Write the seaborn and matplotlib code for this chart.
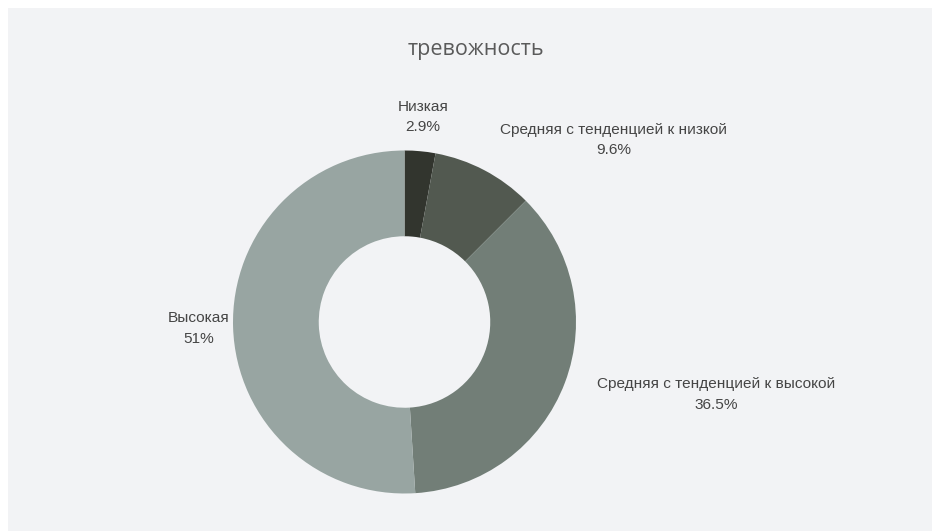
import numpy as np
import pandas as pd
import matplotlib
matplotlib.use('Agg')
import matplotlib.pyplot as plt
from matplotlib.patches import Rectangle
import seaborn as sns

# Data
categories = ['Низкая', 'Средняя с тенденцией к низкой',
              'Средняя с тенденцией к высокой', 'Высокая']
shares = [2.9, 9.6, 36.5, 51]
share_labels = ['2.9%', '9.6%', '36.5%', '51%']
colors = ['#32352e', '#525950', '#727e77', '#98a5a2']
label_align = ['center', 'left', 'left', 'center']

title = 'тревожность'

sns.set_theme(style='white')
plt.rcParams['font.family'] = ['Liberation Sans', 'DejaVu Sans']

df = pd.DataFrame({'category': categories, 'share': shares, 'label': share_labels})
palette = sns.color_palette(colors)

W, H = 932, 531
fig = plt.figure(figsize=(W / 100, H / 100), dpi=100, facecolor='white')

# light grey panel with white margin on top / left
fig.patches.append(Rectangle((8 / W, 0), 1, 1 - 8 / H, transform=fig.transFigure,
                             facecolor='#f2f3f5', edgecolor='none', zorder=-5))

ax = fig.add_axes([0, 0, 1, 1])
ax.set_zorder(2)
ax.patch.set_visible(False)

cx, cy, R = 404.5, 322, 171.5  # pixel centre (from top) and outer radius
wedges, texts = ax.pie(
    df['share'],
    labels=[f'{c}\n{l}' for c, l in zip(df['category'], df['label'])],
    colors=palette,
    startangle=90,
    counterclock=False,
    labeldistance=1.2,
    wedgeprops=dict(width=0.5, edgecolor='none', linewidth=0),
    textprops=dict(fontsize=11.1, color='#454545', linespacing=1.6),
)
for t, ha in zip(texts, label_align):
    t.set_ha(ha)
    t.set_multialignment('center')

ax.set_aspect('auto')
ax.set_xlim(-cx / R, (W - cx) / R)
ax.set_ylim(-(H - cy) / R, cy / R)
ax.axis('off')

fig.text(476 / W, 1 - 50 / H, title, ha='center', va='center',
         fontsize=15.5, color='#5a5a5a', family=['Open Sans', 'DejaVu Sans'])

fig.savefig('out.png', dpi=100, facecolor='white')
